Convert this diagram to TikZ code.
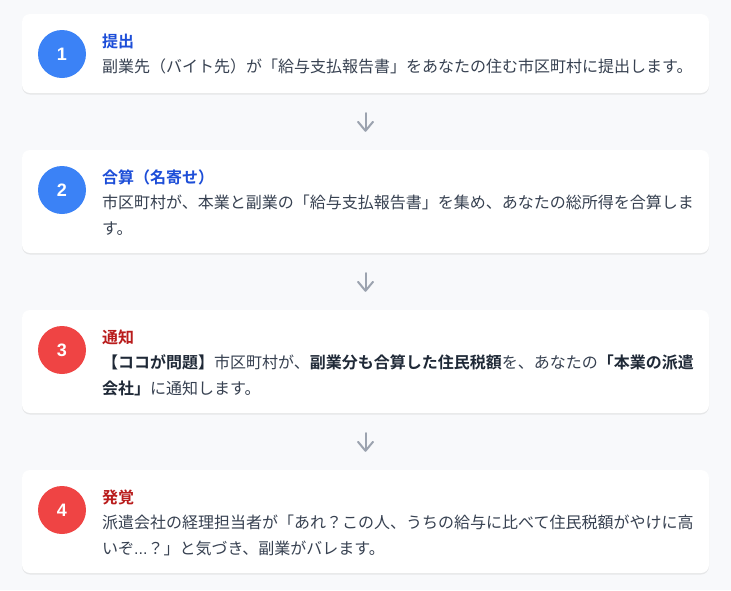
\documentclass[tikz,border=0pt]{standalone}
\usepackage{fontspec}
\setmainfont{Noto Sans CJK JP}[BoldFont={* Bold}]
\newfontfamily\numfont{Liberation Sans}
\usetikzlibrary{arrows.meta,shadows}
\definecolor{bg}{HTML}{F8F9FB}
\definecolor{stepblue}{HTML}{3B82F6}
\definecolor{stepred}{HTML}{EF4444}
\definecolor{titleblue}{HTML}{1D4ED8}
\definecolor{titlered}{HTML}{B91C1C}
\definecolor{bodytext}{HTML}{374151}
\definecolor{strongtext}{HTML}{1F2937}
\definecolor{arrowgray}{HTML}{9CA3AF}
\newcommand{\emtxt}[1]{{\bfseries\color{strongtext}#1}}
\begin{document}
\begin{tikzpicture}[x=1pt,y=-1pt,
  card/.style={fill=white, rounded corners=8pt, inner sep=0, minimum width=687pt,
    drop shadow={shadow xshift=0pt, shadow yshift=-1.5pt, opacity=0.12, fill=black!60}},
  stepnum/.style={circle, inner sep=0, minimum size=48pt, text=white,
    font=\numfont\bfseries\fontsize{18}{18}\selectfont},
  ttl/.style={anchor=base west, inner sep=0, font=\bfseries\fontsize{16}{16}\selectfont},
  bodyline/.style={anchor=base west, inner sep=0, text=bodytext, font=\fontsize{16}{16}\selectfont},
  flow/.style={draw=arrowgray, line width=2pt, line cap=round,
    -{Straight Barb[length=9pt, width=15pt, round]}, shorten <=20pt, shorten >=18pt}
]
\useasboundingbox[fill=bg] (0,0) rectangle (731,590);

% cards
\node[card, minimum height=79pt]  (card1) at (365.5,53.5) {};
\node[card, minimum height=103pt] (card2) at (365.5,201.5) {};
\node[card, minimum height=103pt] (card3) at (365.5,361.5) {};
\node[card, minimum height=103pt] (card4) at (365.5,521.5) {};

% step 1
\node[stepnum, fill=stepblue] (n1) at (62,54) {1};
\node[ttl, text=titleblue] (t1) at (102,47) {提出};
\node[bodyline] (b1a) at (102,72) {副業先（バイト先）が「給与支払報告書」をあなたの住む市区町村に提出します。};

% step 2
\node[stepnum, fill=stepblue] (n2) at (62,190) {2};
\node[ttl, text=titleblue] (t2) at (102,183) {合算（名寄せ）};
\node[bodyline] (b2a) at (102,208) {市区町村が、本業と副業の「給与支払報告書」を集め、あなたの総所得を合算しま};
\node[bodyline] (b2b) at (102,234) {す。};

% step 3
\node[stepnum, fill=stepred] (n3) at (62,350) {3};
\node[ttl, text=titlered] (t3) at (102,343) {通知};
\node[bodyline] (b3a) at (102,368) {\emtxt{【ココが問題】}市区町村が、\emtxt{副業分も合算した住民税額}を、あなたの\emtxt{「本業の派遣}};
\node[bodyline] (b3b) at (102,394) {\emtxt{会社」}に通知します。};

% step 4
\node[stepnum, fill=stepred] (n4) at (62,510) {4};
\node[ttl, text=titlered] (t4) at (102,503) {発覚};
\node[bodyline] (b4a) at (102,528) {派遣会社の経理担当者が「あれ？この人、うちの給与に比べて住民税額がやけに高};
\node[bodyline] (b4b) at (102,554) {いぞ{\numfont...}？」と気づき、副業がバレます。};

% connectors
\draw[flow] (card1.south) -- (card2.north);
\draw[flow] (card2.south) -- (card3.north);
\draw[flow] (card3.south) -- (card4.north);
\end{tikzpicture}
\end{document}
